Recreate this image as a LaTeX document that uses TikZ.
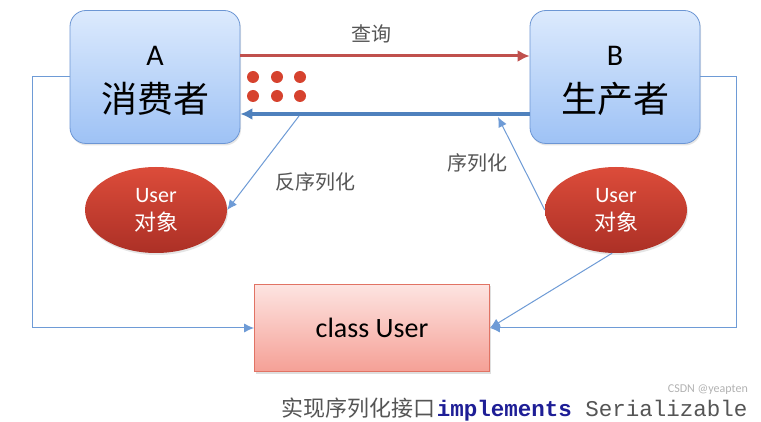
\documentclass[tikz,border=0pt]{standalone}
\usepackage{fontspec}
\setmainfont{Carlito}
\newfontfamily\cjk{Noto Sans CJK SC}
\setmonofont{Liberation Mono}
\usetikzlibrary{arrows.meta,shapes.geometric,shadows}
\definecolor{boxtop}{RGB}{220,234,253}
\definecolor{boxbot}{RGB}{158,194,245}
\definecolor{boxline}{RGB}{108,150,212}
\definecolor{redline}{RGB}{192,80,77}
\definecolor{blueline}{RGB}{79,129,189}
\definecolor{thinblue}{RGB}{110,155,214}
\definecolor{elltop}{RGB}{220,76,58}
\definecolor{ellbot}{RGB}{172,48,38}
\definecolor{clstop}{RGB}{253,228,225}
\definecolor{clsbot}{RGB}{245,160,150}
\definecolor{clsline}{RGB}{225,115,100}
\definecolor{dotred}{RGB}{214,66,46}
\definecolor{labgray}{RGB}{85,85,85}
\definecolor{kwblue}{RGB}{30,30,150}
\begin{document}
\begin{tikzpicture}[x=1pt,y=-1pt,
  actor/.style={draw=boxline, line width=0.8pt, rounded corners=16pt,
    top color=boxtop, bottom color=boxbot, minimum width=170pt, minimum height=133pt,
    drop shadow={opacity=0.2, shadow xshift=1pt, shadow yshift=-2pt}},
  bigletter/.style={font=\fontsize{30}{32}\selectfont, text=black},
  bigcjk/.style={font=\cjk\fontsize{36}{40}\selectfont, text=black},
  obj/.style={ellipse, draw=none, top color=elltop, bottom color=ellbot,
    minimum width=142pt, minimum height=86pt, text=white, align=center,
    font=\fontsize{22}{28}\selectfont,
    drop shadow={opacity=0.2, shadow xshift=1pt, shadow yshift=-2pt}},
  cls/.style={draw=clsline, line width=0.8pt, top color=clstop, bottom color=clsbot,
    minimum width=235pt, minimum height=87pt, font=\fontsize{28}{30}\selectfont,
    drop shadow={opacity=0.25, shadow xshift=1pt, shadow yshift=-2pt}},
  lab/.style={font=\cjk\fontsize{20}{24}\selectfont, text=labgray},
  thickred/.style={draw=redline, line width=3pt, -{Latex[length=12pt,width=12pt]}},
  thickblue/.style={draw=blueline, line width=3.5pt, -{Latex[length=12pt,width=12pt]}},
  thinarr/.style={draw=thinblue, line width=1pt, -{Latex[length=10pt,width=9pt]}},
  reddot/.style={circle, fill=dotred, minimum size=12pt, inner sep=0pt}
]
\useasboundingbox (0,0) rectangle (761,422);
\fill[white] (0,0) rectangle (761,422);

% actors
\node[actor] (A) at (155,77) {};
\node[actor] (B) at (615,77) {};
\node[bigletter] (Aletter) at (155,56) {A};
\node[bigcjk] (Aname) at (155,99) {消费者};
\node[bigletter] (Bletter) at (615,56) {B};
\node[bigcjk] (Bname) at (615,99) {生产者};

% objects
\node[obj] (E1) at (156,210) {User\\{\cjk 对象}};
\node[obj] (E2) at (616,210) {User\\{\cjk 对象}};

% class
\node[cls] (C) at (372,328) {class User};

% thick arrows
\draw[thickred] ([yshift=21pt]A.east) -- ([yshift=21pt]B.west);
\draw[thickblue] ([yshift=-37pt]B.west) -- ([yshift=-37pt]A.east);
\node[lab] (query) at (371,34) {查询};

% dots
\foreach \i/\x in {1/253,2/277,3/300}{
  \node[reddot] (dt\i) at (\x,77) {};
  \node[reddot] (db\i) at (\x,96) {};
}

% deserialization / serialization
\coordinate (dsStart) at (299,116);
\draw[thinarr] (dsStart) -- (E1.east);
\node[lab] (deser) at (315,182) {反序列化};
\coordinate (sEnd) at (498,117);
\draw[thinarr] (E2.west) -- (sEnd);
\node[lab] (ser) at (477,163) {序列化};
\draw[thinarr] (E2.-95) -- (C.east);

% loops
\draw[thinarr] (A.west) -- ++(-37,0) |- (C.west);
\draw[thinarr] (B.east) -- ++(36,0) |- (C.east);

% bottom text
\node[anchor=west, inner sep=0pt, text=labgray] (impl) at (281,410)
  {{\cjk\fontsize{22}{24}\selectfont 实现序列化接口}\,{\ttfamily\fontsize{22.5}{24}\selectfont{\bfseries\color{kwblue}implements} Serializable}};
\node[anchor=east, inner sep=0pt, text=black!30, font=\fontsize{12}{14}\selectfont] (wm) at (748,390) {CSDN @yeapten};
\end{tikzpicture}
\end{document}
